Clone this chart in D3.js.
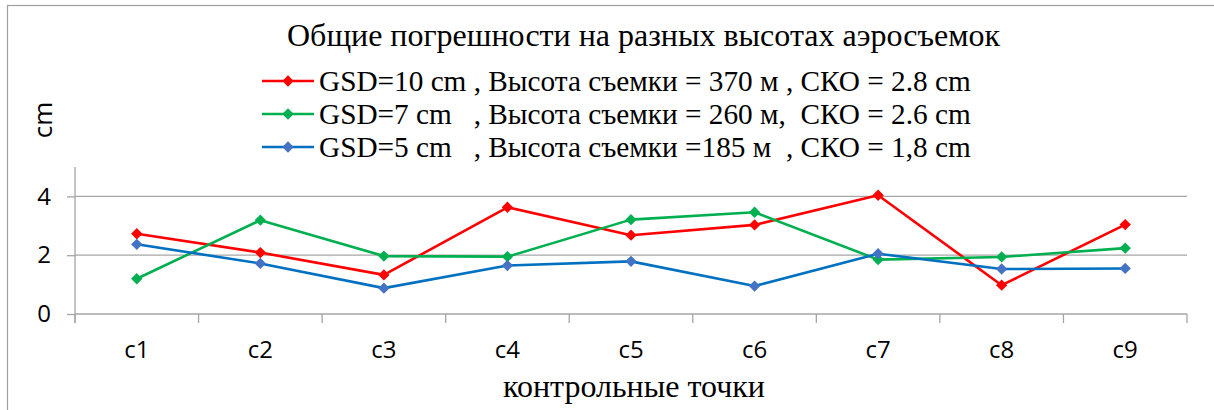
<!DOCTYPE html>
<html>
<head>
<meta charset="utf-8">
<script src="https://cdn.jsdelivr.net/npm/d3@7"></script>
<style>
  html, body { margin: 0; padding: 0; background: #fff; }
  svg text { white-space: pre; }
</style>
</head>
<body>
<svg id="chart" width="1214" height="410"></svg>
<script>
// Control points along the x axis
const categories = ["c1", "c2", "c3", "c4", "c5", "c6", "c7", "c8", "c9"];

// Total error (cm) at each control point for three flight altitudes
const gsd10 = [2.73, 2.09, 1.33, 3.63, 2.68, 3.03, 4.04, 0.98, 3.04];
const gsd7  = [1.20, 3.19, 1.97, 1.95, 3.21, 3.46, 1.85, 1.94, 2.24];
const gsd5  = [2.37, 1.72, 0.88, 1.65, 1.79, 0.95, 2.05, 1.53, 1.55];

const yTicks = [0, 2, 4];

const seriesLabels = [
  "GSD=10 cm , Высота съемки = 370 м , СКО = 2.8 cm",
  "GSD=7 cm   , Высота съемки = 260 м,  СКО = 2.6 cm",
  "GSD=5 cm   , Высота съемки =185 м  , СКО = 1,8 cm"
];

const series = [
  { label: seriesLabels[0], values: gsd10, line: "#ff0000", marker: "#ff0000" },
  { label: seriesLabels[1], values: gsd7,  line: "#00b050", marker: "#00b050" },
  { label: seriesLabels[2], values: gsd5,  line: "#0070c0", marker: "#4472c4" }
];

const svg = d3.select("#chart");
const serif = "'Liberation Serif', 'Times New Roman', serif";
const sans = "'Open Sans', 'Liberation Sans', sans-serif";
const gridColor = "#a6a6a6";

// Chart frame
svg.append("rect")
  .attr("x", 7.5).attr("y", 5.5)
  .attr("width", 1220).attr("height", 420)
  .attr("fill", "none").attr("stroke", "#a0a0a0").attr("stroke-width", 1.2);

const plot = { left: 75, right: 1187, top: 167, bottom: 314 };

const x = d3.scaleBand().domain(categories).range([plot.left, plot.right]).padding(0);
const y = d3.scaleLinear().domain([0, 5]).range([plot.bottom, plot.top]);

// Horizontal gridlines
svg.append("g").selectAll("line").data(yTicks.filter(d => d > 0)).join("line")
  .attr("x1", plot.left).attr("x2", plot.right)
  .attr("y1", d => y(d)).attr("y2", d => y(d))
  .attr("stroke", gridColor).attr("stroke-width", 1.3);

// Y axis
const yAxis = svg.append("g")
  .attr("transform", `translate(${plot.left},0)`)
  .call(d3.axisLeft(y).tickValues(yTicks).tickSize(8).tickPadding(16).tickFormat(d3.format("d")));
yAxis.select(".domain").attr("stroke", gridColor).attr("stroke-width", 1.3)
  .attr("d", `M0,${plot.top}V${plot.bottom + 9}`);
yAxis.selectAll(".tick line").attr("stroke", gridColor).attr("stroke-width", 1.3);
yAxis.selectAll(".tick text")
  .attr("font-family", sans).attr("font-size", 24).attr("fill", "#000");

// X axis with ticks between categories
const xAxis = svg.append("g")
  .attr("transform", `translate(0,${plot.bottom})`)
  .call(d3.axisBottom(x).tickSize(0).tickPadding(27));
xAxis.select(".domain").attr("stroke", gridColor).attr("stroke-width", 1.3)
  .attr("d", `M${plot.left},0H${plot.right}`);
xAxis.selectAll(".tick text")
  .attr("font-family", sans).attr("font-size", 24).attr("fill", "#000");
const boundaries = categories.map(c => x(c)).concat([x(categories[categories.length - 1]) + x.bandwidth()]);
xAxis.append("g").selectAll("line").data(boundaries).join("line")
  .attr("x1", d => d).attr("x2", d => d)
  .attr("y1", 0).attr("y2", 9)
  .attr("stroke", gridColor).attr("stroke-width", 1.3);

// Series lines and square-diamond markers (a square turned 45°)
const cx = c => x(c) + x.bandwidth() / 2;
const line = d3.line().x((d, i) => cx(categories[i])).y(d => y(d));
const diamond = d3.symbol().type(d3.symbolSquare).size(64);

series.forEach(s => {
  svg.append("path")
    .datum(s.values)
    .attr("d", line)
    .attr("fill", "none").attr("stroke", s.line).attr("stroke-width", 2.6)
    .attr("stroke-linejoin", "round");
  svg.append("g").selectAll("path").data(s.values).join("path")
    .attr("d", diamond)
    .attr("transform", (d, i) => `translate(${cx(categories[i])},${y(d)}) rotate(45)`)
    .attr("fill", s.marker);
});

// Fit a text element's font size to a target width
function fitWidth(sel, width) {
  const node = sel.node();
  const base = +sel.attr("font-size");
  const w = node.getComputedTextLength();
  sel.attr("font-size", base * width / w);
  return base * width / w;
}

// Title
const title = svg.append("text")
  .attr("x", 287).attr("y", 46)
  .attr("font-family", serif).attr("font-size", 26).attr("fill", "#000")
  .text("Общие погрешности на разных высотах аэросъемок");
fitWidth(title, 713);

// Legend
const legendRows = [81, 114, 147];
const legendFirst = svg.append("text").attr("font-family", serif).attr("font-size", 24)
  .attr("x", -1000).text(seriesLabels[0]);
const legendSize = fitWidth(legendFirst, 652);
legendFirst.remove();

const legend = svg.append("g");
series.forEach((s, i) => {
  const g = legend.append("g").attr("transform", `translate(0,${legendRows[i]})`);
  g.append("line").attr("x1", 262).attr("x2", 314).attr("y1", 0).attr("y2", 0)
    .attr("stroke", s.line).attr("stroke-width", 2.6);
  g.append("path").attr("d", diamond).attr("transform", "translate(288,0) rotate(45)").attr("fill", s.marker);
  g.append("text").attr("x", 319).attr("y", 0).attr("dy", "0.34em")
    .attr("font-family", serif).attr("font-size", legendSize).attr("fill", "#000")
    .text(s.label);
});

// Axis titles
svg.append("text")
  .attr("transform", "translate(52,120) rotate(-90)")
  .attr("text-anchor", "middle")
  .attr("font-family", sans).attr("font-size", 26).attr("fill", "#000")
  .text("cm");

const xTitle = svg.append("text")
  .attr("x", 503).attr("y", 397)
  .attr("font-family", serif).attr("font-size", 26).attr("fill", "#000")
  .text("контрольные точки");
fitWidth(xTitle, 262);
</script>
</body>
</html>
